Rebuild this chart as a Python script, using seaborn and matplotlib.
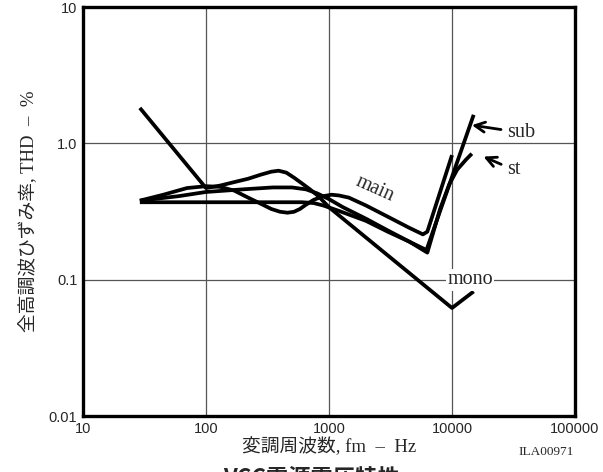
import matplotlib
matplotlib.use("Agg")
import matplotlib.pyplot as plt
import seaborn as sns
import pandas as pd

# ---- data ----
mono_f = [29, 100, 130, 170, 220, 280, 340, 390, 450, 520, 600, 700, 820, 1000, 10000, 15000]
mono_v = [1.82, 0.47, 0.49, 0.52, 0.55, 0.59, 0.62, 0.63, 0.61, 0.56, 0.51, 0.46, 0.41, 0.34, 0.062, 0.082]

main_f = [29, 45, 70, 100, 130, 170, 220, 280, 340, 400, 460, 520, 580, 650, 750, 900, 1050, 1200, 1450, 2000, 3000, 4500, 5800, 6300, 10000]
main_v = [0.38, 0.42, 0.47, 0.485, 0.48, 0.45, 0.40, 0.36, 0.33, 0.315, 0.31, 0.315, 0.33, 0.355, 0.385, 0.41, 0.42, 0.415, 0.40, 0.35, 0.29, 0.24, 0.215, 0.225, 0.82]

st_f = [29, 60, 100, 200, 350, 500, 650, 800, 1000, 1300, 2000, 3000, 4500, 6300, 8000, 9500, 11000, 13000, 14500]
st_v = [0.38, 0.41, 0.44, 0.46, 0.475, 0.475, 0.46, 0.43, 0.39, 0.34, 0.28, 0.23, 0.19, 0.158, 0.33, 0.50, 0.64, 0.76, 0.84]

sub_f = [29, 100, 300, 600, 750, 900, 1200, 2000, 3000, 4500, 6200, 15000]
sub_v = [0.37, 0.37, 0.37, 0.37, 0.365, 0.35, 0.32, 0.27, 0.225, 0.19, 0.165, 1.62]

x_ticks = [10, 100, 1000, 10000, 100000]
x_tick_labels = ["10", "100", "1000", "10000", "100000"]
y_ticks = [0.01, 0.1, 1.0, 10]
y_tick_labels = ["0.01", "0.1", "1.0", "10"]

frames = []
for name, f, v in [("mono", mono_f, mono_v), ("main", main_f, main_v),
                   ("st", st_f, st_v), ("sub", sub_f, sub_v)]:
    frames.append(pd.DataFrame({"f": f, "v": v, "s": name}))
df = pd.concat(frames, ignore_index=True)

sns.set_style("white")
plt.rcParams["font.family"] = ["Liberation Serif", "Noto Sans CJK JP", "DejaVu Sans"]

fig = plt.figure(figsize=(6.03, 4.72), dpi=100)
ax = fig.add_axes([0.1376, 0.1186, 0.8160, 0.8665])

sns.lineplot(data=df, x="f", y="v", units="s", estimator=None, sort=False,
             color="black", lw=2.7, ax=ax, legend=False,
             solid_joinstyle="round", solid_capstyle="butt")

ax.set_xscale("log")
ax.set_yscale("log")
ax.set_xlim(10, 100000)
ax.set_ylim(0.01, 10)
ax.set_xticks(x_ticks)
ax.set_xticklabels(x_tick_labels, family=["Liberation Sans"], fontsize=10.5)
ax.set_yticks(y_ticks)
ax.set_yticklabels(y_tick_labels, family=["Liberation Sans"], fontsize=10.5)
ax.minorticks_off()
ax.tick_params(length=0, pad=4)
ax.grid(True, which="major", color="#555555", lw=0.9)
for sp in ax.spines.values():
    sp.set_color("black")
    sp.set_linewidth(2.4)

ax.set_xlabel("変調周波数, fm  –  Hz", fontsize=13.5,
              family=["Liberation Serif", "Noto Sans CJK JP"], labelpad=1)
ax.set_ylabel("全高調波ひずみ率, THD  –  %", fontsize=13.5,
              family=["Liberation Serif", "Noto Sans CJK JP"], labelpad=8)

ax.text(2370, 0.46, "main", rotation=-24, ha="center", va="center", fontsize=14.5)
ax.text(14000, 0.1, "mono", ha="center", va="center", fontsize=14.5,
        bbox=dict(facecolor="white", edgecolor="none", pad=1))
ax.annotate("sub", xy=(14500, 1.36), xytext=(28000, 1.2), fontsize=14.5,
            va="center", ha="left",
            arrowprops=dict(arrowstyle="->", lw=2, color="black",
                            mutation_scale=18, shrinkA=2, shrinkB=0))
ax.annotate("st", xy=(18000, 0.80), xytext=(28000, 0.64), fontsize=14.5,
            va="center", ha="left",
            arrowprops=dict(arrowstyle="->", lw=2, color="black",
                            mutation_scale=18, shrinkA=2, shrinkB=0))

fig.text(0.905, 0.042, "ILA00971", fontsize=9.5, ha="center", va="center",
         family=["Liberation Serif"])
fig.text(0.37, 0.012, "VCC電源電圧特性 :", fontsize=16, fontweight="bold",
         ha="left", va="top", family=["Noto Sans CJK JP", "Liberation Serif"])

fig.savefig("out.png", dpi=100)
